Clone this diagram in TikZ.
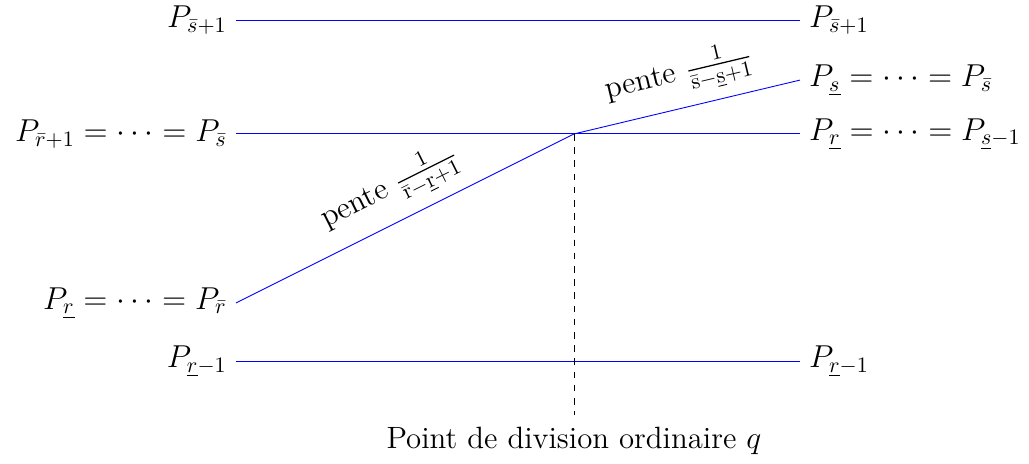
\documentclass[tikz,border=0pt]{standalone}
\usepackage{amsmath}
\usetikzlibrary{positioning}

\begin{document}
\begin{tikzpicture}[
    font=\fontsize{14}{17}\selectfont,
    niveau/.style={blue},
    gauche/.style={anchor=east, inner sep=4pt},
    droite/.style={anchor=west, inner sep=4pt},
    pente/.style={sloped, above=2pt, inner sep=3pt, text=black}
]
\useasboundingbox (0,0) rectangle (16.44,7.40);

% extremites des segments
\coordinate (g1) at (3.77,7.08);
\coordinate (d1) at (12.78,7.08);
\coordinate (g2) at (3.77,5.26);
\coordinate (d2) at (12.78,5.26);
\coordinate (g3) at (3.77,2.56);
\coordinate (q) at (9.17,5.26);
\coordinate (d3) at (12.78,6.12);
\coordinate (g4) at (3.77,1.63);
\coordinate (d4) at (12.78,1.63);
\coordinate (qbas) at (9.17,0.77);

\node[gauche] (lg1) at (g1) {$P_{\bar{s}+1}$};
\node[droite] (ld1) at (d1) {$P_{\bar{s}+1}$};
\node[gauche] (lg2) at (g2) {$P_{\bar{r}+1}=\cdots=P_{\bar{s}}$};
\node[droite] (ld2) at (d2) {$P_{\underline{r}}=\cdots=P_{\underline{s}-1}$};
\node[gauche] (lg3) at (g3) {$P_{\underline{r}}=\cdots=P_{\bar{r}}$};
\node[droite] (ld3) at (d3) {$P_{\underline{s}}=\cdots=P_{\bar{s}}$};
\node[gauche] (lg4) at (g4) {$P_{\underline{r}-1}$};
\node[droite] (ld4) at (d4) {$P_{\underline{r}-1}$};

\draw[niveau] (g1) -- (d1);
\draw[niveau] (g2) -- (d2);
\draw[niveau] (g4) -- (d4);
\draw[niveau] (g3) -- node[pente, pos=0.5] {pente $\frac{1}{\mathrm{\bar{r}-\underline{r}+1}}$} (q)
                  -- node[pente, pos=0.5] {pente $\frac{1}{\mathrm{\bar{s}-\underline{s}+1}}$} (d3);

\draw[dashed] (q) -- (qbas);
\node[below=2pt of qbas] (titre) {Point de division ordinaire $q$};
\end{tikzpicture}
\end{document}
